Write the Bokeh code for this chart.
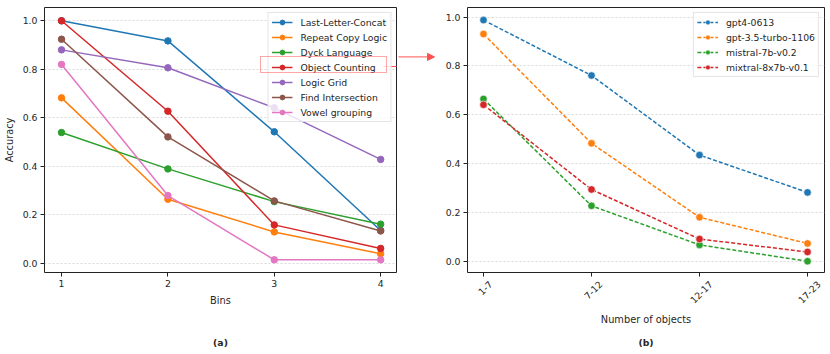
import math
from bokeh.plotting import figure
from bokeh.models import (Range1d, FixedTicker, Arrow, NormalHead, LinearAxis, Legend, LegendItem)
from bokeh.layouts import row
from bokeh.embed import file_html
from bokeh.resources import INLINE

# ---------------- data (a) ----------------
bins = [1, 2, 3, 4]
last_letter_concat = [1.0, 0.917, 0.542, 0.135]
repeat_copy_logic = [0.682, 0.264, 0.129, 0.039]
dyck_language = [0.539, 0.389, 0.254, 0.161]
object_counting = [1.0, 0.627, 0.158, 0.061]
logic_grid = [0.880, 0.806, 0.641, 0.428]
find_intersection = [0.924, 0.521, 0.257, 0.133]
vowel_grouping = [0.820, 0.279, 0.014, 0.014]

series_a_names = ["Last-Letter-Concat", "Repeat Copy Logic", "Dyck Language",
                  "Object Counting", "Logic Grid", "Find Intersection", "Vowel grouping"]
series_a_values = [last_letter_concat, repeat_copy_logic, dyck_language,
                   object_counting, logic_grid, find_intersection, vowel_grouping]

# ---------------- data (b) ----------------
object_bins = ["1-7", "7-12", "12-17", "17-23"]
gpt4_0613 = [0.988, 0.761, 0.435, 0.282]
gpt35_turbo_1106 = [0.931, 0.483, 0.180, 0.073]
mistral_7b_v02 = [0.665, 0.227, 0.067, 0.0]
mixtral_8x7b_v01 = [0.641, 0.294, 0.091, 0.038]

series_b_names = ["gpt4-0613", "gpt-3.5-turbo-1106", "mistral-7b-v0.2", "mixtral-8x7b-v0.1"]
series_b_values = [gpt4_0613, gpt35_turbo_1106, mistral_7b_v02, mixtral_8x7b_v01]

y_ticks = [0.0, 0.2, 0.4, 0.6, 0.8, 1.0]

tab10 = ["#1f77b4", "#ff7f0e", "#2ca02c", "#d62728", "#9467bd", "#8c564b", "#e377c2"]
FONT = "DejaVu Sans"
FS_PX = 9.3
FS = "%.1fpx" % FS_PX
FSL = "9.8px"
TXT = "#262626"
RED = "#ff5050"


def style_axis(ax):
    ax.axis_line_color = None
    ax.major_tick_line_color = "#222222"
    ax.major_tick_out = 4
    ax.major_tick_in = 0
    ax.minor_tick_line_color = None
    ax.major_label_text_font = FONT
    ax.major_label_text_font_size = FS
    ax.major_label_text_color = TXT
    ax.major_label_standoff = 3
    ax.axis_label_text_font = FONT
    ax.axis_label_text_font_size = FSL
    ax.axis_label_text_font_style = "normal"
    ax.axis_label_text_color = TXT


def style(p):
    p.outline_line_color = "#222222"
    p.outline_line_width = 1
    p.xgrid.grid_line_color = None
    p.ygrid.grid_line_color = "#cfcfcf"
    p.ygrid.grid_line_dash = "2 2"
    p.ygrid.grid_line_width = 0.8
    p.yaxis.ticker = FixedTicker(ticks=y_ticks)
    p.yaxis.major_label_overrides = {t: "%.1f" % t for t in y_ticks}
    for ax in (p.xaxis, p.yaxis):
        style_axis(ax)
    p.background_fill_color = "white"
    p.border_fill_color = "white"


def style_legend(p):
    lg = p.legend[0]
    lg.location = "top_right"
    lg.margin = 5
    lg.padding = 3
    lg.spacing = 3
    lg.label_height = 12
    lg.glyph_height = 12
    lg.glyph_width = 21
    lg.label_standoff = 8
    lg.label_text_font = FONT
    lg.label_text_font_size = FS
    lg.label_text_color = TXT
    lg.border_line_color = "#cccccc"
    lg.border_line_width = 1
    lg.background_fill_alpha = 0.8
    return lg


def caption_axis(p, text, standoff):
    ax = LinearAxis(ticker=FixedTicker(ticks=[]))
    style_axis(ax)
    ax.major_tick_out = 0
    ax.major_tick_line_color = None
    ax.axis_label = text
    ax.axis_label_text_font_size = FS
    ax.axis_label_text_font_style = "bold"
    ax.axis_label_standoff = standoff
    p.add_layout(ax, "below")


# ---------------- panel (a) ----------------
p1 = figure(width=398, height=354, output_backend="svg", toolbar_location=None,
            x_range=Range1d(0.84, 4.149), y_range=Range1d(-0.0384, 1.0548),
            min_border_left=43, min_border_right=2, min_border_top=7, min_border_bottom=82)
style(p1)
p1.xaxis.ticker = FixedTicker(ticks=bins)
p1.xaxis.axis_label = "Bins"
p1.yaxis.axis_label = "Accuracy"
p1.xaxis.axis_label_standoff = 5
p1.yaxis.axis_label_standoff = 5
caption_axis(p1, "(a)", 28)

for name, vals, col in zip(series_a_names, series_a_values, tab10):
    p1.line(bins, vals, line_color=col, line_width=1.5, legend_label=name)
    p1.scatter(bins, vals, size=6.5, fill_color=col, line_color=col, legend_label=name)
style_legend(p1)

# red highlight frame around the "Object Counting" legend entry (drawn as a second,
# transparent legend so that it sits on top of the main legend)
hl = Legend(items=[LegendItem(label=" ", renderers=[])], location=(216, 199),
            margin=0, padding=1, spacing=0, glyph_width=1, glyph_height=13, label_height=13,
            label_standoff=0, label_width=122, label_text_font_size=FS,
            border_line_color=RED, border_line_width=1, background_fill_alpha=0)
p1.add_layout(hl)
p1.segment(x0=[4.027], y0=[0.8115], x1=[4.3], y1=[0.8115], line_color=RED, line_width=1)

# ---------------- connector between the panels ----------------
pm = figure(width=42, height=354, output_backend="svg", toolbar_location=None,
            x_range=Range1d(0, 42), y_range=Range1d(0, 354),
            min_border_left=0, min_border_right=0, min_border_top=0, min_border_bottom=0)
pm.axis.visible = False
pm.grid.visible = False
pm.outline_line_color = None
pm.add_layout(Arrow(x_start=-1, y_start=288, x_end=36, y_end=288,
                    end=NormalHead(size=7, fill_color=RED, line_color=RED, line_width=1),
                    line_color=RED, line_width=1))

# ---------------- panel (b) ----------------
xb = list(range(len(object_bins)))
p2 = figure(width=390, height=354, output_backend="svg", toolbar_location=None,
            x_range=Range1d(-0.148, 3.157), y_range=Range1d(-0.0461, 1.0396),
            min_border_left=27, min_border_right=6, min_border_top=7, min_border_bottom=81)
style(p2)
p2.xaxis.ticker = FixedTicker(ticks=xb)
p2.xaxis.major_label_overrides = {i: "" for i in xb}
p2.xaxis.major_label_standoff = 0

# label axis: rotated labels centred on their ticks (as matplotlib does)
px_per_unit = 108.0


def label_shift(s):
    w = sum(0.361 if c == "-" else 0.636 for c in s) * FS_PX
    return 0.707 * (w + 5) / 2 / px_per_unit


label_pos = [i + label_shift(s) for i, s in enumerate(object_bins)]
lab_ax = LinearAxis(ticker=FixedTicker(ticks=label_pos),
                    major_label_overrides={pos: s for pos, s in zip(label_pos, object_bins)})
style_axis(lab_ax)
lab_ax.major_tick_out = 0
lab_ax.major_tick_line_color = None
lab_ax.major_label_standoff = 6
lab_ax.major_label_orientation = math.pi / 4
lab_ax.axis_label = "Number of objects"
lab_ax.axis_label_standoff = 4
p2.add_layout(lab_ax, "below")
caption_axis(p2, "(b)", 9)

for name, vals, col in zip(series_b_names, series_b_values, tab10):
    p2.line(xb, vals, line_color=col, line_width=1.5, line_dash="4 2", legend_label=name)
    p2.scatter(xb, vals, size=7.5, fill_color=col, line_color="white", line_width=0.6,
               legend_label=name)
style_legend(p2)

layout = row(p1, pm, p2)
open("out.html", "w").write(file_html(layout, INLINE))
